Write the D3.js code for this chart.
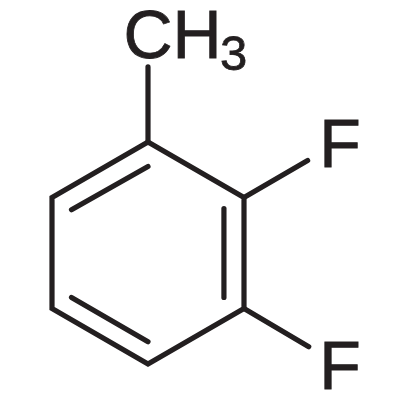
<!DOCTYPE html>
<html>
<head>
<meta charset="utf-8">
<script src="https://cdn.jsdelivr.net/npm/d3@7"></script>
<style>
html, body { margin: 0; padding: 0; background: #fff; }
svg { display: block; }
</style>
</head>
<body>
<div id="chart"></div>
<script>
// molecule coordinates, one unit = one ring bond, y pointing up
const ringAtoms = [[0, 1], [0.866, 0.5], [0.866, -0.5], [0, -1], [-0.866, -0.5], [-0.866, 0.5]];
const singleBonds = [
    [[0, 1], [0, 1.676]],
    [[0.866, 0.5], [1.44, 0.833]],
    [[0.866, -0.5], [1.45, -0.845]]
];
const innerBonds = [
    [[-0.69, 0.39], [0, 0.78]],
    [[0.685, 0.4], [0.685, -0.4]],
    [[-0.69, -0.4], [0, -0.8]]
];
const labels = [
    {text: "C", at: [-0.22, 1.76], big: true},
    {text: "H", at: [0.222, 1.76], big: true},
    {text: "3", at: [0.65, 1.65], big: false},
    {text: "F", at: [1.544, 0.775], big: true},
    {text: "F", at: [1.544, -1.225], big: true}
];

const width = 400;
const height = 400;
const ink = "#231f20";

const x = d3.scaleLinear().domain([-0.866, 0.866]).range([52, 244]);
const y = d3.scaleLinear().domain([-1, 1]).range([364, 142]);

const svg = d3.select("#chart").append("svg")
    .attr("width", width)
    .attr("height", height);

const line = d3.line().x(d => x(d[0])).y(d => y(d[1]));

svg.append("path")
    .attr("d", line(ringAtoms) + "Z")
    .attr("fill", "none")
    .attr("stroke", ink)
    .attr("stroke-width", 5.2)
    .attr("stroke-linejoin", "miter");

svg.append("g")
    .selectAll("path")
    .data(singleBonds.concat(innerBonds))
    .enter()
    .append("path")
    .attr("d", line)
    .attr("fill", "none")
    .attr("stroke", ink)
    .attr("stroke-width", 5.2)
    .attr("stroke-linecap", "round");

svg.append("g")
    .selectAll("text")
    .data(labels)
    .enter()
    .append("text")
    .attr("x", d => x(d.at[0]))
    .attr("y", d => y(d.at[1]))
    .attr("font-family", "'Liberation Sans', Arial, sans-serif")
    .attr("font-size", d => d.big ? 68 : 49)
    .attr("fill", ink)
    .attr("stroke", ink)
    .attr("stroke-width", 0.8)
    .text(d => d.text);
</script>
</body>
</html>
